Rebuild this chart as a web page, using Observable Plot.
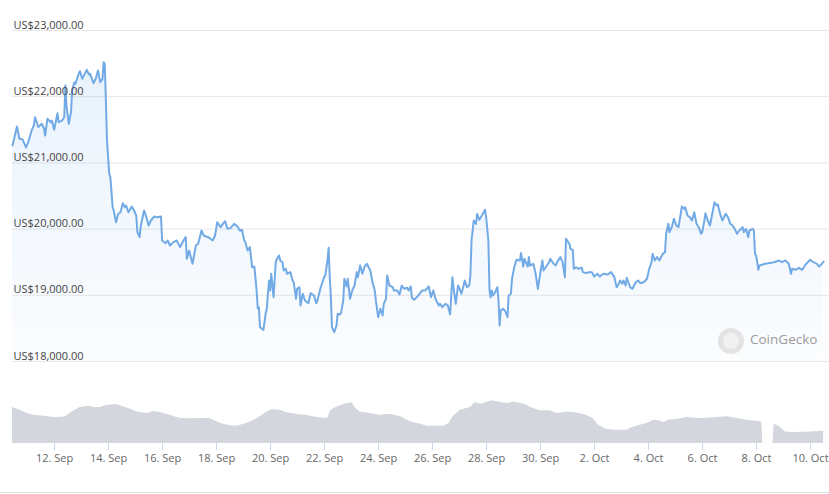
<!DOCTYPE html>
<html>
<head>
<meta charset="utf-8">
<script src="https://cdn.jsdelivr.net/npm/d3@7"></script>
<script src="https://cdn.jsdelivr.net/npm/@observablehq/plot@0.6"></script>
<style>
  html, body { margin: 0; padding: 0; background: #fff; }
  #wrap { position: relative; width: 829px; height: 494px; overflow: hidden; background: #fff; font-family: "Open Sans", sans-serif; }
  #wrap svg { position: absolute; left: 0; top: 0; }
  #logo { position: absolute; left: 718px; top: 328px; width: 26px; height: 26px; border-radius: 50%; background: #e3e3e3; }
  #logo i { position: absolute; left: 5px; top: 5px; width: 16px; height: 16px; border-radius: 50%; background: #f1f1f1; }
  #brand { position: absolute; left: 750px; top: 330px; font-size: 13.5px; color: #9b9b9b; }
  #baseLine { position: absolute; left: 0; top: 492px; width: 829px; height: 1px; background: #dcdcdc; }
</style>
</head>
<body>
<div id="wrap"></div>
<script>
// ---- data (hours since 2022-09-10 10:40 UTC, value) ----
const startTime = "2022-09-10T10:40:00Z";
const xDomainISO = ["2022-09-10T10:40:00Z", "2022-10-10T16:53:00Z"];
const yTicks = [18000, 19000, 20000, 21000, 22000, 23000];
const tickDatesISO = ["2022-09-12","2022-09-14","2022-09-16","2022-09-18","2022-09-20","2022-09-22","2022-09-24","2022-09-26","2022-09-28","2022-09-30","2022-10-02","2022-10-04","2022-10-06","2022-10-08","2022-10-10"];

const pricePoints = [[0,21263],[4,21550],[6,21369],[9,21353],[12,21233],[14,21313],[17,21490],[19,21565],[20,21690],[23,21540],[26,21591],[28,21520],[29,21414],[31,21666],[34,21615],[35,21640],[37,21500],[40,21751],[41,21615],[44,21640],[46,21690],[47,22170],[48,21867],[50,21591],[52,21766],[53,22094],[55,22219],[56,22195],[59,22355],[60,22385],[62,22270],[66,22406],[68,22335],[69,22346],[72,22204],[74,22270],[76,22396],[78,22219],[80,22270],[81,22521],[82,22497],[83,21943],[84,21338],[86,20835],[87,20784],[89,20331],[90,20281],[92,20104],[94,20231],[96,20255],[98,20391],[100,20331],[101,20356],[103,20255],[106,20341],[108,20281],[110,20205],[111,19953],[113,19878],[114,20054],[117,20281],[119,20180],[121,20054],[123,20130],[126,20190],[129,20180],[132,20190],[133,19828],[136,19787],[138,19828],[140,19752],[143,19803],[146,19828],[149,19727],[152,19828],[154,19878],[155,19551],[157,19677],[160,19476],[163,19752],[165,19778],[168,19979],[170,19903],[172,19888],[174,19878],[178,19828],[180,19903],[182,20104],[185,20029],[187,20079],[189,20120],[191,20004],[194,20019],[197,20079],[200,20039],[202,19979],[204,19989],[206,19828],[207,19803],[209,19677],[211,19727],[213,19424],[215,19435],[217,19073],[218,18800],[219,18820],[220,18518],[223,18478],[225,18720],[226,18796],[228,19224],[229,19073],[230,19325],[232,18971],[233,19224],[234,19500],[235,19551],[237,19601],[238,19526],[240,19500],[241,19375],[243,19400],[244,19325],[247,19350],[249,19224],[250,19198],[252,18947],[253,19098],[255,19122],[256,18846],[258,19023],[259,18971],[260,18921],[263,18880],[265,19032],[268,18997],[270,18880],[271,18921],[274,19122],[277,19274],[278,19299],[280,19526],[281,19717],[282,19274],[283,18971],[284,18518],[286,18443],[288,18544],[289,18720],[291,18710],[292,18730],[294,18921],[295,19249],[297,19133],[298,19249],[300,18947],[302,19073],[304,19148],[306,19350],[307,19274],[309,19450],[311,19325],[313,19435],[315,19476],[318,19375],[320,19198],[322,19073],[323,18921],[325,18669],[327,18796],[329,18695],[330,18872],[332,18947],[333,19299],[335,19148],[338,19122],[339,19073],[342,19073],[344,19012],[346,19148],[348,19098],[351,19113],[352,19073],[354,19133],[355,18962],[357,18932],[360,18982],[363,19047],[364,19073],[367,19073],[370,19133],[372,18971],[374,19073],[376,18947],[379,18846],[380,18872],[382,18821],[385,18872],[387,18846],[389,18710],[391,19274],[392,19122],[394,18872],[396,19148],[398,19073],[399,19023],[401,19148],[402,19224],[404,19122],[406,19148],[407,19299],[408,19828],[410,20130],[412,20079],[413,20230],[415,20140],[418,20230],[420,20291],[421,20180],[423,19828],[424,19073],[425,18971],[426,19073],[427,18997],[429,19047],[431,19122],[432,18921],[433,18544],[434,18770],[436,18796],[438,18760],[440,18669],[441,18997],[443,19023],[444,19249],[446,19426],[448,19537],[451,19526],[452,19637],[454,19435],[455,19551],[458,19435],[459,19577],[460,19450],[463,19476],[465,19325],[467,19098],[469,19325],[471,19526],[472,19375],[475,19450],[477,19500],[478,19551],[481,19476],[483,19450],[484,19500],[487,19577],[489,19500],[491,19274],[492,19854],[495,19778],[496,19702],[498,19687],[499,19400],[501,19424],[503,19400],[506,19415],[507,19350],[510,19335],[512,19350],[515,19350],[517,19284],[520,19325],[522,19284],[525,19325],[529,19314],[532,19350],[535,19274],[537,19122],[539,19174],[540,19224],[542,19174],[543,19224],[545,19148],[546,19264],[549,19122],[551,19098],[554,19198],[556,19224],[558,19183],[561,19198],[564,19249],[566,19400],[568,19500],[569,19626],[571,19526],[573,19577],[575,19526],[578,19626],[580,19652],[581,19929],[583,20080],[584,19953],[586,20029],[588,20155],[590,20054],[592,20029],[595,20341],[597,20306],[598,20331],[600,20205],[602,20180],[604,20130],[606,20256],[608,20080],[610,20029],[612,19929],[613,19953],[615,20130],[616,20240],[618,20130],[620,20054],[622,20231],[624,20406],[626,20356],[627,20372],[629,20231],[631,20130],[634,20231],[636,20180],[638,20080],[640,20054],[642,20004],[644,19929],[646,19979],[649,20029],[650,19953],[652,20004],[654,19878],[655,19979],[658,20004],[659,19979],[660,19626],[661,19601],[663,19385],[664,19450],[669,19476],[677,19500],[681,19526],[684,19500],[687,19526],[690,19476],[692,19325],[693,19400],[696,19385],[699,19415],[702,19385],[705,19465],[709,19537],[712,19500],[715,19476],[717,19435],[719,19465],[721,19511]];

const volumePoints = [[0,45],[7,41.6],[13,37.5],[19,35.4],[28,34],[37,32.5],[46,33],[49,35.4],[53,39.5],[60,45],[68,46.6],[73,45],[78,45],[84,47.5],[92,48.8],[97,46.6],[103,43.8],[111,39.5],[120,37.5],[126,40],[132,38.3],[140,35.4],[149,31.3],[158,30.8],[167,31.3],[175,31.3],[179,29.1],[185,25],[194,22],[200,22],[206,24.1],[215,29.1],[222,35.4],[226,39.5],[231,42.5],[238,41.6],[244,38.3],[253,36.3],[262,35],[271,32.5],[280,31.3],[283,41.6],[289,45.8],[295,49.1],[302,50.8],[305,43.8],[309,39.5],[318,37.5],[327,35.4],[336,36.6],[345,33.3],[354,27],[363,24.1],[369,21.6],[383,21.6],[388,25],[392,34.1],[398,41.6],[407,45],[411,50.8],[417,49.1],[426,53.3],[432,52],[440,50],[446,52],[455,49.1],[463,43.8],[469,40.8],[478,40.8],[484,37.5],[493,39.5],[501,38.3],[510,35.4],[516,31.3],[521,22.9],[528,17.5],[537,16.6],[546,16.6],[551,20],[558,22.9],[564,25],[570,29.1],[575,28.3],[579,25.8],[583,29.1],[591,30.4],[600,32.5],[609,31.3],[618,31.6],[626,32.5],[636,33.3],[644,31.3],[653,29.1],[666,27],[667,0],[676,0],[677,23.8],[681,22],[687,14.5],[694,13.8],[709,14.5],[721,15.4]];

// ---- build ----
const t0 = new Date(startTime).getTime();
const toDate = h => new Date(t0 + h * 3600000);
const price = pricePoints.map(([h, v]) => ({date: toDate(h), price: v}));
const volume = volumePoints.map(([h, v]) => ({date: toDate(h), vol: v}));
const xDomain = xDomainISO.map(s => new Date(s));
const tickDates = tickDatesISO.map(s => new Date(s + "T00:00:00Z"));
const fmtY = v => "US$" + d3.format(",.2f")(v);
const fmtX = d3.utcFormat("%-d. %b");

const gradientDefs = () => {
  const defs = d3.create("svg:defs");
  const g = defs.append("linearGradient").attr("id", "priceFill")
    .attr("x1", 0).attr("y1", 0).attr("x2", 0).attr("y2", 1);
  g.append("stop").attr("offset", "0%").attr("stop-color", "#7cb5ec").attr("stop-opacity", 0.17);
  g.append("stop").attr("offset", "100%").attr("stop-color", "#7cb5ec").attr("stop-opacity", 0.03);
  return defs.node();
};

const volumePlot = Plot.plot({
  width: 829, height: 494,
  marginLeft: 12, marginRight: 0, marginTop: 363, marginBottom: 51,
  x: {type: "utc", domain: xDomain},
  y: {domain: [0, 100], axis: null},
  style: {fontFamily: "Open Sans, sans-serif", fontSize: "11px", background: "transparent", overflow: "visible"},
  marks: [
    Plot.areaY(volume, {x: "date", y: "vol", fill: "#d3d6dc"}),
    Plot.axisX(tickDates, {tickFormat: fmtX, tickSize: 7, tickPadding: 4, stroke: "#ccd6eb", fill: "#666", fontSize: 11})
  ]
});

const pricePlot = Plot.plot({
  width: 829, height: 370,
  marginLeft: 12, marginRight: 0, marginTop: 30, marginBottom: 9,
  x: {type: "utc", domain: xDomain, axis: null},
  y: {domain: [18000, 23000], axis: null},
  style: {fontFamily: "Open Sans, sans-serif", fontSize: "11px", background: "transparent", overflow: "visible"},
  marks: [
    gradientDefs,
    Plot.ruleY(yTicks, {stroke: "#e6e6e6"}),
    Plot.areaY(price, {x: "date", y1: 18000, y2: "price", fill: "url(#priceFill)"}),
    Plot.lineY(price, {x: "date", y: "price", stroke: "#72aae6", strokeWidth: 2}),
    Plot.text(yTicks, {y: d => d, text: fmtY, frameAnchor: "left", textAnchor: "start", lineAnchor: "bottom", dx: 1, dy: -2, fill: "#444", fontSize: 11})
  ]
});

const wrap = document.getElementById("wrap");
wrap.appendChild(volumePlot);
wrap.appendChild(pricePlot);
wrap.insertAdjacentHTML("beforeend", '<div id="logo"><i></i></div><div id="brand">CoinGecko</div><div id="baseLine"></div>');
</script>
</body>
</html>
